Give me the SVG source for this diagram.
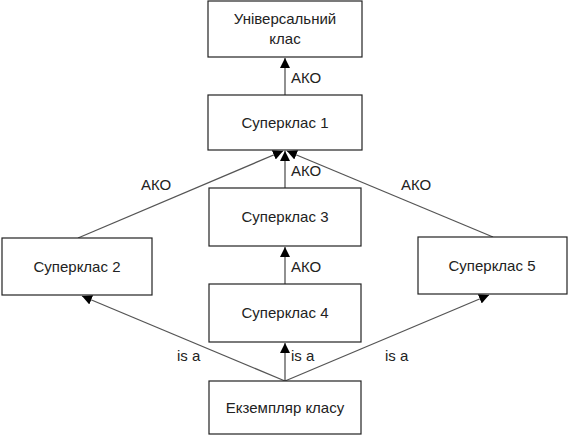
<svg xmlns="http://www.w3.org/2000/svg" width="570" height="436" viewBox="0 0 570 436">
<style>
.box{fill:#fff;stroke:#222;stroke-width:1.2}
.t{font-family:"Liberation Sans",Arial,sans-serif;font-size:15px;fill:#222}
.c{text-anchor:middle}
.e{stroke:#555;stroke-width:1.3;fill:none;marker-end:url(#ah)}
</style>
<defs>
<marker id="ah" viewBox="0 0 10 10" refX="10" refY="5" markerWidth="10" markerHeight="10" markerUnits="userSpaceOnUse" orient="auto">
<path d="M0,0 L10,5 L0,10 z" fill="#000"/>
</marker>
</defs>
<rect width="570" height="436" fill="#fff"/>
<g id="connectors">
<line class="e" x1="285" y1="95" x2="285" y2="58"/>
<line class="e" x1="285" y1="188" x2="285" y2="151"/>
<line class="e" x1="78" y1="238" x2="283" y2="151"/>
<line class="e" x1="493" y1="237" x2="287" y2="151"/>
<line class="e" x1="285" y1="284" x2="285" y2="247"/>
<line class="e" x1="285" y1="381" x2="285" y2="343"/>
<line class="e" x1="285" y1="381" x2="82" y2="296"/>
<line class="e" x1="285" y1="381" x2="489" y2="295"/>
<text class="t" x="291" y="83">АКО</text>
<text class="t" x="141" y="190">АКО</text>
<text class="t" x="291" y="176">АКО</text>
<text class="t" x="401" y="190">АКО</text>
<text class="t" x="291" y="272">АКО</text>
<text class="t" x="177" y="361">is a</text>
<text class="t" x="291" y="361">is a</text>
<text class="t" x="385" y="361">is a</text>
</g>
<g id="n-universal">
<rect class="box" x="208" y="1" width="154" height="56"/>
<text class="t c" x="285" y="24">Універсальний</text>
<text class="t c" x="285" y="44">клас</text>
</g>
<g id="n-s1">
<rect class="box" x="208" y="95" width="154" height="55"/>
<text class="t c" x="285" y="128">Суперклас 1</text>
</g>
<g id="n-s3">
<rect class="box" x="209" y="188" width="152" height="58"/>
<text class="t c" x="285" y="222">Суперклас 3</text>
</g>
<g id="n-s4">
<rect class="box" x="209" y="284" width="152" height="58"/>
<text class="t c" x="285" y="318">Суперклас 4</text>
</g>
<g id="n-s2">
<rect class="box" x="2" y="238" width="150" height="57"/>
<text class="t c" x="77" y="272">Суперклас 2</text>
</g>
<g id="n-s5">
<rect class="box" x="418" y="237" width="149" height="57"/>
<text class="t c" x="492" y="271">Суперклас 5</text>
</g>
<g id="n-inst">
<rect class="box" x="209" y="381" width="152" height="53"/>
<text class="t c" x="285" y="413">Екземпляр класу</text>
</g>
</svg>
